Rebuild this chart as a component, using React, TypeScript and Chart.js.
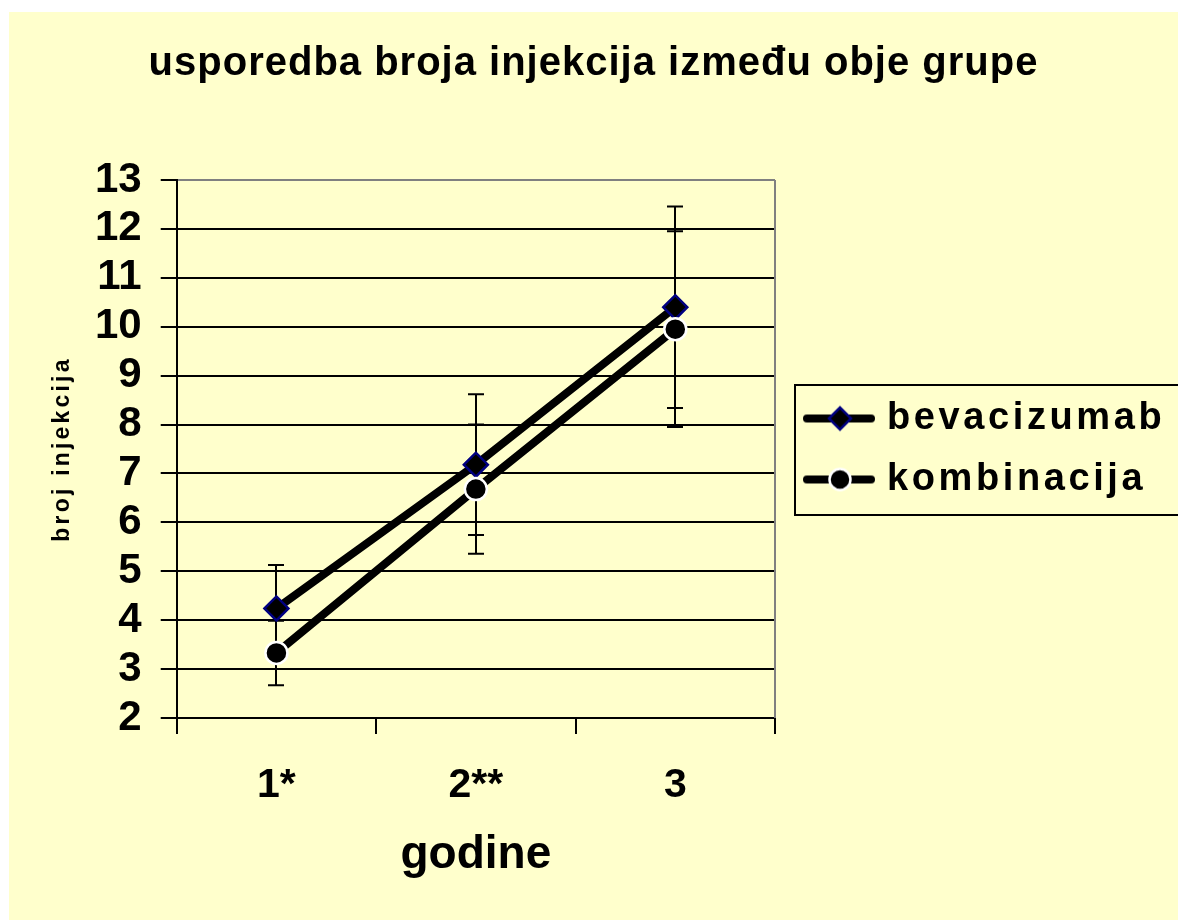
import React, { useEffect, useRef } from 'react';
import { Chart, registerables } from 'chart.js';

Chart.register(...registerables);

// ---- data ----
const chartTitle = 'usporedba broja injekcija između obje grupe';
const xAxisTitle = 'godine';
const yAxisTitle = 'broj injekcija';
const categories = ['1*', '2**', '3'];
const seriesNames = ['bevacizumab', 'kombinacija'];
const bevacizumab = [4.24, 7.18, 10.4];
const bevacizumabErr = [0.89, 1.44, 2.06];
const kombinacija = [3.33, 6.68, 9.95];
const kombinacijaErr = [0.66, 1.32, 2.0];
const yMin = 2;
const yMax = 13;
const yStep = 1;

// ---- styling / layout ----
const FONT = '"Liberation Sans", Arial, Helvetica, sans-serif';
const CANVAS_W = 1169;
const CANVAS_H = 908;
const LEGEND_W = 403;
const BG = '#FFFFCC';

function makeLegendImage(kind: 'diamond' | 'circle') {
  const c = document.createElement('canvas');
  c.width = 88;
  c.height = 30;
  const g = c.getContext('2d')!;
  g.strokeStyle = '#000';
  g.lineWidth = 8;
  g.lineCap = 'round';
  g.beginPath();
  g.moveTo(18, 15);
  g.lineTo(82, 15);
  g.stroke();
  g.fillStyle = '#000';
  g.lineWidth = 2.5;
  g.beginPath();
  if (kind === 'diamond') {
    g.moveTo(40, 15);
    g.lineTo(51, 4);
    g.lineTo(62, 15);
    g.lineTo(51, 26);
    g.closePath();
    g.strokeStyle = '#000080';
  } else {
    g.arc(51, 15, 10.5, 0, Math.PI * 2);
    g.strokeStyle = '#fff';
  }
  g.fill();
  g.stroke();
  return c;
}

function patchSpacing(obj: any, method: string, spacing: number) {
  if (!obj || obj['__sp_' + method]) return;
  const orig = obj[method];
  obj[method] = function (...args: any[]) {
    const ctx = this.ctx;
    const prev = ctx.letterSpacing;
    try {
      ctx.letterSpacing = spacing + 'px';
    } catch (e) {}
    try {
      return orig.apply(this, args);
    } finally {
      try {
        ctx.letterSpacing = prev === undefined ? '0px' : prev;
      } catch (e) {}
    }
  };
  obj['__sp_' + method] = true;
}

export default function App() {
  const ref = useRef<HTMLCanvasElement>(null);

  useEffect(() => {
    const canvas = ref.current;
    if (!canvas) return;
    const legendImgs = [makeLegendImage('diamond'), makeLegendImage('circle')];
    const errors = [bevacizumabErr, kombinacijaErr];

    const helperPlugin = {
      id: 'helper',
      beforeLayout(chart: any) {
        const lg = chart.legend;
        if (lg && !lg.__fitPatched) {
          const f = lg.fit;
          lg.fit = function () {
            f.call(this);
            if (this.options.display) this.width = LEGEND_W;
          };
          lg.__fitPatched = true;
        }
        patchSpacing(chart.legend, 'draw', 3.6);
        patchSpacing(chart.titleBlock, 'draw', 1);
      },
      afterLayout(chart: any) {
        patchSpacing(chart.scales.y, 'drawTitle', 3.2);
      },
      beforeDatasetsDraw(chart: any) {
        const ctx = chart.ctx;
        const ys = chart.scales.y;
        const area = chart.chartArea;
        ctx.save();
        // plot-area right border (grey)
        ctx.strokeStyle = '#808080';
        ctx.lineWidth = 2;
        ctx.beginPath();
        ctx.moveTo(Math.round(area.right), area.top);
        ctx.lineTo(Math.round(area.right), area.bottom);
        ctx.stroke();
        // error bars
        ctx.strokeStyle = '#000';
        ctx.lineWidth = 2;
        chart.data.datasets.forEach((ds: any, i: number) => {
          const meta = chart.getDatasetMeta(i);
          meta.data.forEach((pt: any, j: number) => {
            const v = ds.data[j];
            const e = errors[i][j];
            const yt = ys.getPixelForValue(v + e);
            const yb = ys.getPixelForValue(v - e);
            const x = Math.round(pt.x);
            ctx.beginPath();
            ctx.moveTo(x, yt);
            ctx.lineTo(x, yb);
            ctx.moveTo(x - 8, yt);
            ctx.lineTo(x + 8, yt);
            ctx.moveTo(x - 8, yb);
            ctx.lineTo(x + 8, yb);
            ctx.stroke();
          });
        });
        ctx.restore();
      },
      afterDraw(chart: any) {
        const lg = chart.legend;
        if (!lg) return;
        const ctx = chart.ctx;
        const cy = (lg.top + lg.bottom) / 2;
        ctx.save();
        ctx.strokeStyle = '#000';
        ctx.lineWidth = 2;
        ctx.strokeRect(Math.round(lg.left + 20), Math.round(cy - 64), lg.width + 20, 130);
        ctx.restore();
      },
    };

    const chart = new Chart(canvas, {
      type: 'line',
      data: {
        labels: categories,
        datasets: [
          {
            label: seriesNames[0],
            data: bevacizumab,
            borderColor: '#000',
            backgroundColor: '#000',
            borderWidth: 8,
            fill: false,
            tension: 0,
            pointStyle: 'rectRot',
            pointRadius: 12,
            pointHoverRadius: 12,
            pointBackgroundColor: '#000',
            pointBorderColor: '#000080',
            pointBorderWidth: 2.5,
            order: 1,
          },
          {
            label: seriesNames[1],
            data: kombinacija,
            borderColor: '#000',
            backgroundColor: '#000',
            borderWidth: 8,
            fill: false,
            tension: 0,
            pointStyle: 'circle',
            pointRadius: 11,
            pointHoverRadius: 11,
            pointBackgroundColor: '#000',
            pointBorderColor: '#fff',
            pointBorderWidth: 2.5,
            order: 0,
          },
        ],
      },
      options: {
        responsive: false,
        animation: false,
        events: [],
        layout: { padding: 0 },
        plugins: {
          title: {
            display: true,
            text: chartTitle,
            color: '#000',
            font: { family: FONT, size: 40, weight: 'bold', lineHeight: 1.2 },
            padding: { top: 28, bottom: 92 },
          },
          legend: {
            display: true,
            position: 'right',
            fullSize: false,
            align: 'center',
            labels: {
              usePointStyle: true,
              pointStyleWidth: 70,
              padding: 23,
              color: '#000',
              font: { family: FONT, size: 38, weight: 'bold' },
              generateLabels: () =>
                seriesNames.map((name, i) => ({
                  text: name,
                  pointStyle: legendImgs[i] as any,
                  fillStyle: '#000',
                  strokeStyle: '#000',
                  lineWidth: 0,
                  hidden: false,
                  datasetIndex: i,
                  fontColor: '#000',
                })),
            },
          },
          tooltip: { enabled: false },
        },
        scales: {
          x: {
            type: 'category',
            offset: true,
            grid: {
              display: true,
              drawOnChartArea: false,
              drawTicks: true,
              tickLength: 16,
              color: '#000',
              tickColor: '#000',
              lineWidth: 2,
              tickWidth: 2,
              offset: true,
            },
            border: { display: true, color: '#000', width: 2 },
            ticks: {
              color: '#000',
              font: { family: FONT, size: 41, weight: 'bold' },
              padding: 27,
              maxRotation: 0,
              autoSkip: false,
            },
            title: {
              display: true,
              text: xAxisTitle,
              color: '#000',
              font: { family: FONT, size: 46, weight: 'bold', lineHeight: 0.8 },
              padding: { top: 0, bottom: 46 },
            },
          },
          y: {
            type: 'linear',
            min: yMin,
            max: yMax,
            ticks: {
              stepSize: yStep,
              autoSkip: false,
              color: '#000',
              font: { family: FONT, size: 42, weight: 'bold' },
              padding: 19,
            },
            grid: {
              color: (c: any) => (c.tick && c.tick.value === yMax ? '#808080' : '#000'),
              tickColor: '#000',
              lineWidth: 2,
              tickWidth: 2,
              tickLength: 16,
              drawTicks: true,
            },
            border: { display: true, color: '#000', width: 2 },
            title: {
              display: true,
              text: yAxisTitle,
              color: '#000',
              font: { family: FONT, size: 23, weight: 'bold', lineHeight: 1.2 },
              padding: { top: 39.4, bottom: 0 },
            },
          },
        },
      } as any,
      plugins: [helperPlugin as any],
    });

    return () => {
      chart.destroy();
    };
  }, []);

  return (
    <div
      style={{
        position: 'absolute',
        left: 9,
        top: 12,
        width: CANVAS_W,
        height: CANVAS_H,
        background: BG,
        overflow: 'hidden',
      }}
    >
      <canvas ref={ref} width={CANVAS_W} height={CANVAS_H} style={{ display: 'block' }} />
    </div>
  );
}
